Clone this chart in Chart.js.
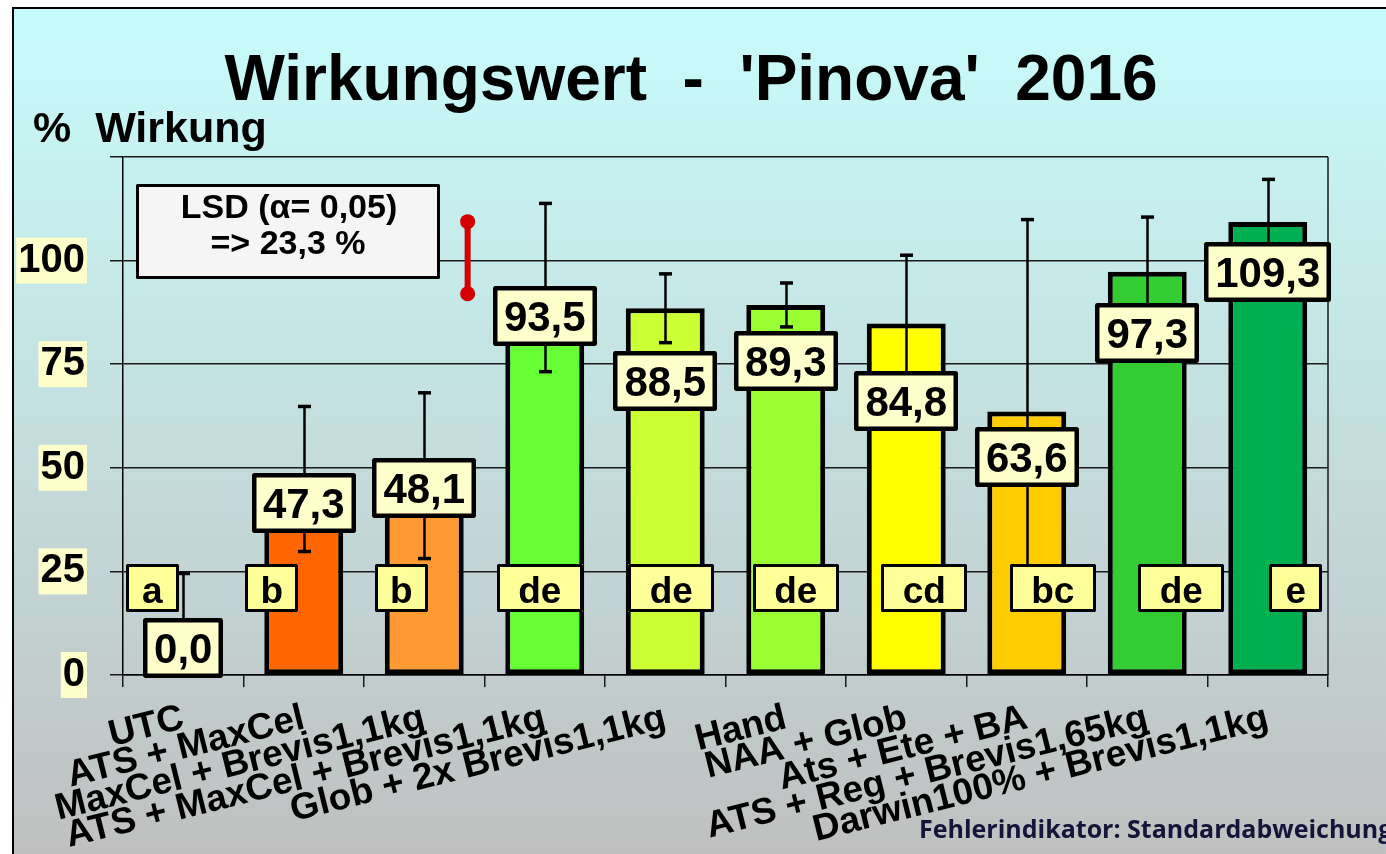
<!DOCTYPE html>
<html>
<head>
<meta charset="utf-8">
<title>Wirkungswert - 'Pinova' 2016</title>
<script src="https://cdn.jsdelivr.net/npm/chart.js@4.4.0/dist/chart.umd.min.js"></script>
<style>
  html, body { margin: 0; padding: 0; background: #fff; }
  canvas { display: block; }
</style>
</head>
<body>
<canvas id="chart" width="1386" height="854"></canvas>
<script>
// ── Data ──
const categories = [
  'UTC',
  'ATS + MaxCel',
  'MaxCel + Brevis1,1kg',
  'ATS + MaxCel + Brevis1,1kg',
  'Glob + 2x Brevis1,1kg',
  'Hand',
  'NAA + Glob',
  'Ats + Ete + BA',
  'ATS + Reg + Brevis1,65kg',
  'Darwin100% + Brevis1,1kg',
];
const wirkung  = [0.0, 47.3, 48.1, 93.5, 88.5, 89.3, 84.8, 63.6, 97.3, 109.3];
const stdAbw   = [24.5, 17.5, 20.0, 20.3, 8.3, 5.3, 16.5, 46.3, 13.2, 10.3];
const letters  = ['a', 'b', 'b', 'de', 'de', 'de', 'cd', 'bc', 'de', 'e'];
const yTicks   = [0, 25, 50, 75, 100];
const yMax     = 125;
const lsdAlpha = 0.05;
const lsdValue = 23.3;

// ── Look & placement ──
const FONT = "'Liberation Sans', Arial, sans-serif";
const barColors = [
  '#ff6600', '#ff6600', '#ff9933', '#66ff33', '#ccff33',
  '#99ff33', '#ffff00', '#ffcc00', '#33cc33', '#00b050',
];
// value boxes were placed by hand in the original (centre, axis units)
const valueBoxAt  = [6.5, 41.5, 45.2, 86.7, 71.0, 75.8, 66.2, 52.7, 82.6, 97.3];
const letterBoxAt = 21;
const letterShift = [-31, -32, -23, -5, 6, 10, 18, 26, 34, 28];

const fmt = v => v.toFixed(1).replace('.', ',');

function box(ctx, cx, cy, w, h, fill, lw) {
  const l = Math.round(cx - w / 2), t = Math.round(cy - h / 2);
  ctx.fillStyle = fill;
  ctx.fillRect(l, t, w, h);
  ctx.lineWidth = lw;
  ctx.strokeStyle = '#000';
  ctx.lineJoin = 'round';
  ctx.strokeRect(l + lw / 2, t + lw / 2, w - lw, h - lw);
}

function centredText(ctx, text, cx, cy, size) {
  ctx.fillStyle = '#000';
  ctx.textAlign = 'center';
  ctx.textBaseline = 'alphabetic';
  ctx.fillText(text, cx, cy + size * 0.36);
}

// ── Background + frame ──
const backdrop = {
  id: 'backdrop',
  beforeDraw(chart) {
    const { ctx, width, height } = chart;
    ctx.save();
    ctx.fillStyle = '#fff';
    ctx.fillRect(0, 0, width, height);
    const g = ctx.createLinearGradient(0, 8, 0, height);
    g.addColorStop(0, '#c8fcfc');
    g.addColorStop(1, '#c0c0c0');
    ctx.fillStyle = g;
    ctx.fillRect(12, 8, width - 12, height - 8);
    ctx.strokeStyle = '#000';
    ctx.lineWidth = 2;
    ctx.beginPath();
    ctx.moveTo(13, height);
    ctx.lineTo(13, 8);
    ctx.lineTo(width, 8);
    ctx.stroke();
    ctx.restore();
  },
  afterDraw(chart) {
    const { ctx } = chart;
    ctx.save();
    ctx.fillStyle = '#000';
    ctx.textBaseline = 'alphabetic';
    ctx.textAlign = 'center';
    ctx.font = `bold 64px ${FONT}`;
    ctx.fillText("Wirkungswert  -  'Pinova'  2016", 691, 100);
    ctx.textAlign = 'left';
    ctx.font = `bold 43px ${FONT}`;
    ctx.fillText('%  Wirkung', 33, 142);
    ctx.fillStyle = '#15153a';
    ctx.font = `bold 25px 'Open Sans', ${FONT}`;
    ctx.fillText('Fehlerindikator: Standardabweichung', 919, 838);
    ctx.restore();
  },
};

// ── Error bars, value boxes, letters, LSD ──
const annotations = {
  id: 'annotations',
  afterDatasetsDraw(chart) {
    const { ctx, chartArea: a, scales: { x, y } } = chart;

    // plot border, right side
    ctx.save();
    ctx.strokeStyle = '#1a1a1a';
    ctx.lineWidth = 1.5;
    ctx.beginPath();
    ctx.moveTo(a.right, a.top);
    ctx.lineTo(a.right, a.bottom);
    ctx.stroke();
    ctx.restore();

    // error bars (standard deviation)
    ctx.save();
    ctx.beginPath();
    ctx.rect(a.left, a.top, a.right - a.left, a.bottom - a.top);
    ctx.clip();
    ctx.strokeStyle = '#000';
    wirkung.forEach((v, i) => {
      const cx = Math.round(x.getPixelForValue(i)) + 0.5;
      const hi = y.getPixelForValue(v + stdAbw[i]);
      const lo = y.getPixelForValue(v - stdAbw[i]);
      ctx.lineWidth = 2.5;
      ctx.beginPath();
      ctx.moveTo(cx, lo);
      ctx.lineTo(cx, hi);
      ctx.stroke();
      ctx.lineWidth = 3.5;
      [hi, lo].forEach(py => {
        ctx.beginPath();
        ctx.moveTo(cx - 6.5, py);
        ctx.lineTo(cx + 6.5, py);
        ctx.stroke();
      });
    });
    ctx.restore();

    ctx.save();
    // value boxes
    ctx.font = `bold 42px ${FONT}`;
    wirkung.forEach((v, i) => {
      const label = fmt(v);
      const w = Math.round(ctx.measureText(label).width + 22);
      const cx = x.getPixelForValue(i);
      const cy = y.getPixelForValue(valueBoxAt[i]);
      box(ctx, cx, cy, w, 60, '#ffffcc', 4.5);
      centredText(ctx, label, cx, cy, 42);
    });

    // significance letters
    ctx.font = `bold 37px ${FONT}`;
    letters.forEach((t, i) => {
      const w = 20 + 33 * t.length;
      const cx = x.getPixelForValue(i) + letterShift[i];
      const cy = y.getPixelForValue(letterBoxAt);
      box(ctx, cx, cy, w, 48, '#ffff99', 3);
      centredText(ctx, t, cx, cy + 2, 37);
    });

    // LSD note
    const bl = a.left + 13, bt = a.top + 27;
    box(ctx, bl + 152, bt + 47, 304, 95, '#f5f5f5', 3);
    ctx.font = `bold 34px ${FONT}`;
    centredText(ctx, `LSD (α= ${String(lsdAlpha).replace('.', ',')})`, bl + 153, bt + 22, 34);
    centredText(ctx, `=> ${fmt(lsdValue)} %`, bl + 152, bt + 58, 34);

    // red LSD marker
    const mx = x.getPixelForValue(2.36);
    const mTop = y.getPixelForValue(109.4);
    const mBot = y.getPixelForValue(92.0);
    ctx.strokeStyle = '#d40000';
    ctx.fillStyle = '#d40000';
    ctx.lineWidth = 6;
    ctx.beginPath();
    ctx.moveTo(mx, mTop);
    ctx.lineTo(mx, mBot);
    ctx.stroke();
    [mTop, mBot].forEach(py => {
      ctx.beginPath();
      ctx.arc(mx, py, 7.5, 0, Math.PI * 2);
      ctx.fill();
    });
    ctx.restore();
  },
};

new Chart(document.getElementById('chart'), {
  type: 'bar',
  data: {
    labels: categories,
    datasets: [{
      label: '% Wirkung',
      data: wirkung,
      backgroundColor: barColors,
      borderColor: '#000',
      borderWidth: 5,
      borderSkipped: false,
      barPercentage: 0.655,
      categoryPercentage: 1,
    }],
  },
  options: {
    responsive: false,
    devicePixelRatio: 1,
    animation: false,
    events: [],
    layout: { padding: { top: 157, right: 58, left: 0, bottom: 0 } },
    plugins: {
      legend: { display: false },
      tooltip: { enabled: false },
    },
    scales: {
      x: {
        offset: true,
        grid: {
          offset: true,
          drawOnChartArea: false,
          drawTicks: true,
          tickLength: 12,
          color: '#1a1a1a',
          lineWidth: 1.5,
        },
        border: { display: true, color: '#000', width: 1.5 },
        ticks: {
          autoSkip: false,
          minRotation: 14,
          maxRotation: 14,
          padding: 13,
          color: '#000',
          font: { family: FONT, size: 37, weight: 'bold', lineHeight: 1.0 },
        },
        afterFit(scale) { scale.height = 854 - 675; },
      },
      y: {
        min: 0,
        max: yMax,
        grid: { color: '#1a1a1a', lineWidth: 1.5, tickLength: 13 },
        border: { display: true, color: '#000', width: 1.5 },
        ticks: {
          stepSize: 25,
          padding: 25,
          color: '#000',
          font: { family: FONT, size: 40, weight: 'bold', lineHeight: 1.1 },
          showLabelBackdrop: true,
          backdropColor: c => yTicks.includes(c.tick.value) ? '#ffffcc' : 'rgba(0,0,0,0)',
          backdropPadding: { x: 2, y: 1 },
          callback: v => yTicks.includes(v) ? String(v) : '',
        },
        afterFit(scale) { scale.width = 123; },
      },
    },
  },
  plugins: [backdrop, annotations],
});
</script>
</body>
</html>
